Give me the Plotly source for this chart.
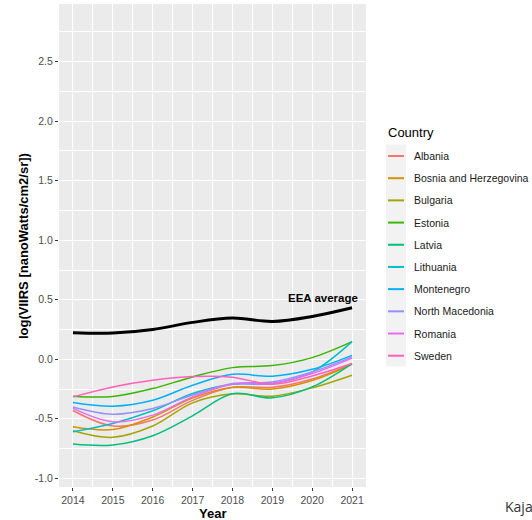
import plotly.graph_objects as go

# Yearly smoothed log(VIIRS) radiance per country
years = [2014, 2015, 2016, 2017, 2018, 2019, 2020, 2021]

countries = ["Albania", "Bosnia and Herzegovina", "Bulgaria", "Estonia", "Latvia",
             "Lithuania", "Montenegro", "North Macedonia", "Romania", "Sweden"]

colors = ["#F8766D", "#D89000", "#A3A500", "#39B600", "#00BF7D",
          "#00BFC4", "#00B0F6", "#9590FF", "#E76BF3", "#FF62BC"]

albania = [-0.43, -0.56, -0.51, -0.345, -0.235, -0.235, -0.165, -0.036]
bosnia = [-0.567, -0.59, -0.485, -0.325, -0.238, -0.25, -0.178, -0.042]
bulgaria = [-0.60, -0.656, -0.561, -0.366, -0.29, -0.31, -0.24, -0.134]
estonia = [-0.31, -0.313, -0.246, -0.148, -0.07, -0.053, 0.014, 0.148]
latvia = [-0.712, -0.72, -0.642, -0.475, -0.29, -0.324, -0.232, -0.036]
lithuania = [-0.609, -0.539, -0.433, -0.288, -0.21, -0.204, -0.106, 0.148]
montenegro = [-0.363, -0.394, -0.344, -0.218, -0.126, -0.142, -0.084, 0.033]
north_macedonia = [-0.40, -0.461, -0.413, -0.30, -0.204, -0.19, -0.106, 0.02]
romania = [-0.413, -0.525, -0.469, -0.316, -0.21, -0.204, -0.12, 0.01]
sweden = [-0.316, -0.232, -0.176, -0.145, -0.15, -0.21, -0.14, -0.036]

series = [albania, bosnia, bulgaria, estonia, latvia,
          lithuania, montenegro, north_macedonia, romania, sweden]

eea_average = [0.223, 0.22, 0.25, 0.31, 0.346, 0.318, 0.36, 0.433]

x_ticks = [2014, 2015, 2016, 2017, 2018, 2019, 2020, 2021]
y_ticks = [-1.0, -0.5, 0.0, 0.5, 1.0, 1.5, 2.0, 2.5]
y_tick_labels = ["-1.0", "-0.5", "0.0", "0.5", "1.0", "1.5", "2.0", "2.5"]

# Figure geometry (pixels)
W, H = 532, 520
ML, MR, MT, MB = 59, 166, 4, 33
PW, PH = W - ML - MR, H - MT - MB


def px_x(px):
    return (px - ML) / PW


def px_y(py):
    return (H - MB - py) / PH


FONT = "Liberation Sans, Arial, sans-serif"

fig = go.Figure()

for name, col, vals in zip(countries, colors, series):
    fig.add_trace(go.Scatter(
        x=years, y=vals, mode="lines", name=name,
        line=dict(color=col, width=1.5, shape="spline", smoothing=1.0),
        showlegend=False,
    ))

fig.add_trace(go.Scatter(
    x=years, y=eea_average, mode="lines", name="EEA average",
    line=dict(color="black", width=3, shape="spline", smoothing=1.0),
    showlegend=False,
))

annotations = [
    dict(x=2020.28, y=0.515, xref="x", yref="y", text="<b>EEA average</b>",
         showarrow=False, font=dict(family=FONT, size=11.5, color="black"),
         xanchor="center", yanchor="middle"),
    dict(x=px_x(212.5), y=px_y(513), xref="paper", yref="paper", text="<b>Year</b>",
         showarrow=False, font=dict(family=FONT, size=13, color="black"),
         xanchor="center", yanchor="middle"),
    dict(x=px_x(23), y=px_y(246), xref="paper", yref="paper",
         text="<b>log(VIIRS [nanoWatts/cm2/sr])</b>", textangle=-90,
         showarrow=False, font=dict(family=FONT, size=13, color="black"),
         xanchor="center", yanchor="middle"),
    dict(x=px_x(386), y=px_y(132.5), xref="paper", yref="paper", text="Country",
         showarrow=False, font=dict(family=FONT, size=13, color="black"),
         xanchor="left", yanchor="middle"),
    dict(x=px_x(503), y=px_y(507), xref="paper", yref="paper", text="Kaja",
         showarrow=False, font=dict(family="Open Sans, sans-serif", size=14, color="#333333"),
         xanchor="left", yanchor="middle"),
]

shapes = [
    # legend key background
    dict(type="rect", xref="paper", yref="paper",
         x0=px_x(386), x1=px_x(406), y0=px_y(144.5), y1=px_y(366.5),
         fillcolor="#F2F2F2", line=dict(width=0), layer="below"),
]

# Legend entries
row0, step = 156.0, 22.19
for i, (name, col) in enumerate(zip(countries, colors)):
    yy = px_y(row0 + i * step)
    shapes.append(dict(type="line", xref="paper", yref="paper",
                       x0=px_x(388), x1=px_x(404), y0=yy, y1=yy,
                       line=dict(color=col, width=2)))
    annotations.append(dict(x=px_x(412), y=yy, xref="paper", yref="paper", text=name,
                            showarrow=False, font=dict(family=FONT, size=10.5, color="#1A1A1A"),
                            xanchor="left", yanchor="middle"))

fig.update_layout(
    width=W, height=H,
    margin=dict(l=ML, r=MR, t=MT, b=MB, pad=0),
    paper_bgcolor="white",
    plot_bgcolor="#EBEBEB",
    font=dict(family=FONT, color="#4D4D4D"),
    showlegend=False,
    annotations=annotations,
    shapes=shapes,
    xaxis=dict(
        range=[2013.65, 2021.35], tickmode="array", tickvals=x_ticks,
        ticktext=[str(v) for v in x_ticks],
        showgrid=True, gridcolor="white", gridwidth=1.1,
        minor=dict(dtick=0.5, tick0=2014, showgrid=True, gridcolor="white", gridwidth=0.55),
        ticks="outside", ticklen=3, tickwidth=1, tickcolor="#333333",
        tickfont=dict(family=FONT, size=10.5, color="#4D4D4D"),
        zeroline=False, showline=False, fixedrange=True,
    ),
    yaxis=dict(
        range=[-1.073, 2.985], tickmode="array", tickvals=y_ticks,
        ticktext=y_tick_labels,
        showgrid=True, gridcolor="white", gridwidth=1.1,
        minor=dict(dtick=0.25, tick0=0, showgrid=True, gridcolor="white", gridwidth=0.55),
        ticks="outside", ticklen=3, tickwidth=1, tickcolor="#333333",
        tickfont=dict(family=FONT, size=10.5, color="#4D4D4D"),
        zeroline=False, showline=False, fixedrange=True,
    ),
)

fig.write_html("out.html", config={"displayModeBar": False})
